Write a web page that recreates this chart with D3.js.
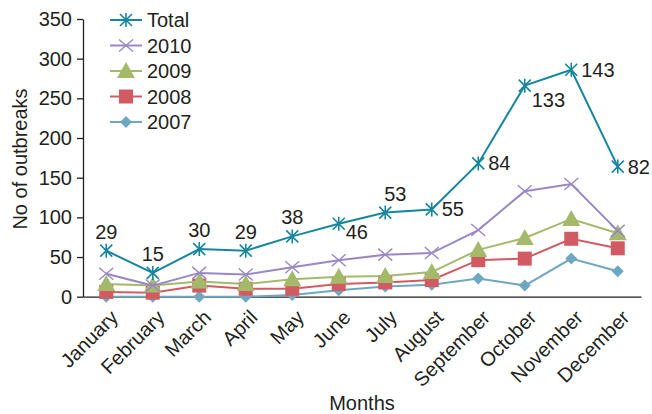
<!DOCTYPE html>
<html><head><meta charset="utf-8">
<script src="https://cdn.jsdelivr.net/npm/d3@7/dist/d3.min.js"></script>
<style>
body{margin:0;background:#fff}
text{font-family:"Liberation Sans",Arial,Helvetica,sans-serif;fill:#231f20}
</style>
</head><body>
<svg id="c" width="652" height="414"></svg>
<script>
const months = ["January","February","March","April","May","June","July","August","September","October","November","December"];
const total = [58,30,60,58,76,92,106,110,168,266,286,164];
const totalLabels = [29,15,30,29,38,46,53,55,84,133,143,82];
const s2010 = [29,14,30,28,37,46,53,55,84,133,142,83];
const s2009 = [16,14,19,16,22,25,26,31,59,74,98,80];
const s2008 = [6,5,14,10,10,16,18,21,46,48,73,61];
const s2007 = [0,0,0,0,2,8,13,15,23,14,48,32];
const yTicks = [0,50,100,150,200,250,300,350];
const seriesNames = ["Total","2010","2009","2008","2007"];
const labelPlace = ["above","above","above","above","above","belowRight","aboveRight","right","right","belowRight","right","right"];

const colors = {Total:"#16869f","2010":"#9a87c6","2009":"#a5b96b","2008":"#d25b63","2007":"#6da7c2"};
const markers = {Total:"asterisk","2010":"cross","2009":"triangle","2008":"square","2007":"diamond"};
const seriesData = {Total:total,"2010":s2010,"2009":s2009,"2008":s2008,"2007":s2007};

const svg = d3.select("#c");
const x = d3.scaleBand().domain(months).range([83,641]);
const y = d3.scaleLinear().domain([0,350]).range([296.7,19]);
const cx = m => x(m) + x.bandwidth()/2;

// y axis
const yAxis = svg.append("g").attr("transform","translate(83,0)")
  .call(d3.axisLeft(y).tickValues(yTicks).tickSize(6).tickPadding(5).tickSizeOuter(0));
yAxis.select(".domain").attr("stroke","#231f20").attr("stroke-width",1.3);
yAxis.selectAll(".tick line").attr("stroke","#231f20").attr("stroke-width",1.3);
yAxis.selectAll(".tick text").attr("font-size",20).attr("fill","#231f20")
  .attr("font-family","Liberation Sans, Arial, sans-serif");

// x axis
const xAxis = svg.append("g").attr("transform","translate(0,296.7)")
  .call(d3.axisBottom(x).tickSize(0).tickSizeOuter(0).tickPadding(0));
xAxis.select(".domain").attr("stroke","#231f20").attr("stroke-width",1.3);
xAxis.selectAll(".tick text")
  .attr("font-size",20).attr("fill","#231f20")
  .attr("font-family","Liberation Sans, Arial, sans-serif")
  .attr("text-anchor","end").attr("dy",0).attr("y",0)
  .attr("transform","translate(13,22) rotate(-45)");

// axis titles
svg.append("text").attr("x",362).attr("y",410).attr("text-anchor","middle")
  .attr("font-size",20).text("Months");
svg.append("text").attr("transform","translate(27,159) rotate(-90)").attr("text-anchor","middle")
  .attr("font-size",20).text("No of outbreaks");

function drawMarker(g, type, color){
  if(type==="asterisk"){
    g.append("path").attr("d","M0,-7V7M-6,-6L6,6M-6,6L6,-6").attr("stroke",color).attr("stroke-width",1.6).attr("fill","none");
  } else if(type==="cross"){
    g.append("path").attr("d","M-7,-6L7,6M-7,6L7,-6").attr("stroke",color).attr("stroke-width",1.4).attr("fill","none");
  } else if(type==="triangle"){
    g.append("path").attr("d","M0,-9L9,7L-9,7Z").attr("fill",color);
  } else if(type==="square"){
    g.append("rect").attr("x",-7).attr("y",-7).attr("width",14).attr("height",14).attr("fill",color);
  } else if(type==="diamond"){
    g.append("path").attr("d","M0,-6L6,0L0,6L-6,0Z").attr("fill",color);
  }
}

const line = d3.line().x((d,i)=>cx(months[i])).y(d=>y(d));
const drawOrder = ["2007","2008","2009","2010","Total"];
drawOrder.forEach(name=>{
  const vals = seriesData[name];
  svg.append("path").datum(vals).attr("d",line).attr("fill","none")
    .attr("stroke",colors[name]).attr("stroke-width",2);
  vals.forEach((v,i)=>{
    const g = svg.append("g").attr("transform",`translate(${cx(months[i])},${y(v)})`);
    drawMarker(g, markers[name], colors[name]);
  });
});

// total labels
totalLabels.forEach((lab,i)=>{
  const px = cx(months[i]), py = y(total[i]);
  const p = labelPlace[i];
  const t = svg.append("text").attr("font-size",20).text(lab);
  if(p==="above"){ t.attr("x",px).attr("y",py-12).attr("text-anchor","middle"); }
  else if(p==="aboveRight"){ t.attr("x",px+10).attr("y",py-12).attr("text-anchor","middle"); }
  else if(p==="right"){ t.attr("x",px+10).attr("y",py+7).attr("text-anchor","start"); }
  else if(p==="belowRight"){ t.attr("x",px+7).attr("y",py+(i===9?21:15)).attr("text-anchor","start"); }
});

// legend
const lg = svg.append("g");
seriesNames.forEach((name,i)=>{
  const yy = 20 + i*25.5;
  const g = lg.append("g").attr("transform",`translate(0,${yy})`);
  g.append("line").attr("x1",110).attr("x2",142).attr("y1",0).attr("y2",0)
    .attr("stroke",colors[name]).attr("stroke-width",2);
  const m = g.append("g").attr("transform","translate(126,0)");
  drawMarker(m, markers[name], colors[name]);
  g.append("text").attr("x",147).attr("y",7).attr("font-size",20).text(name);
});
</script>
</body></html>
